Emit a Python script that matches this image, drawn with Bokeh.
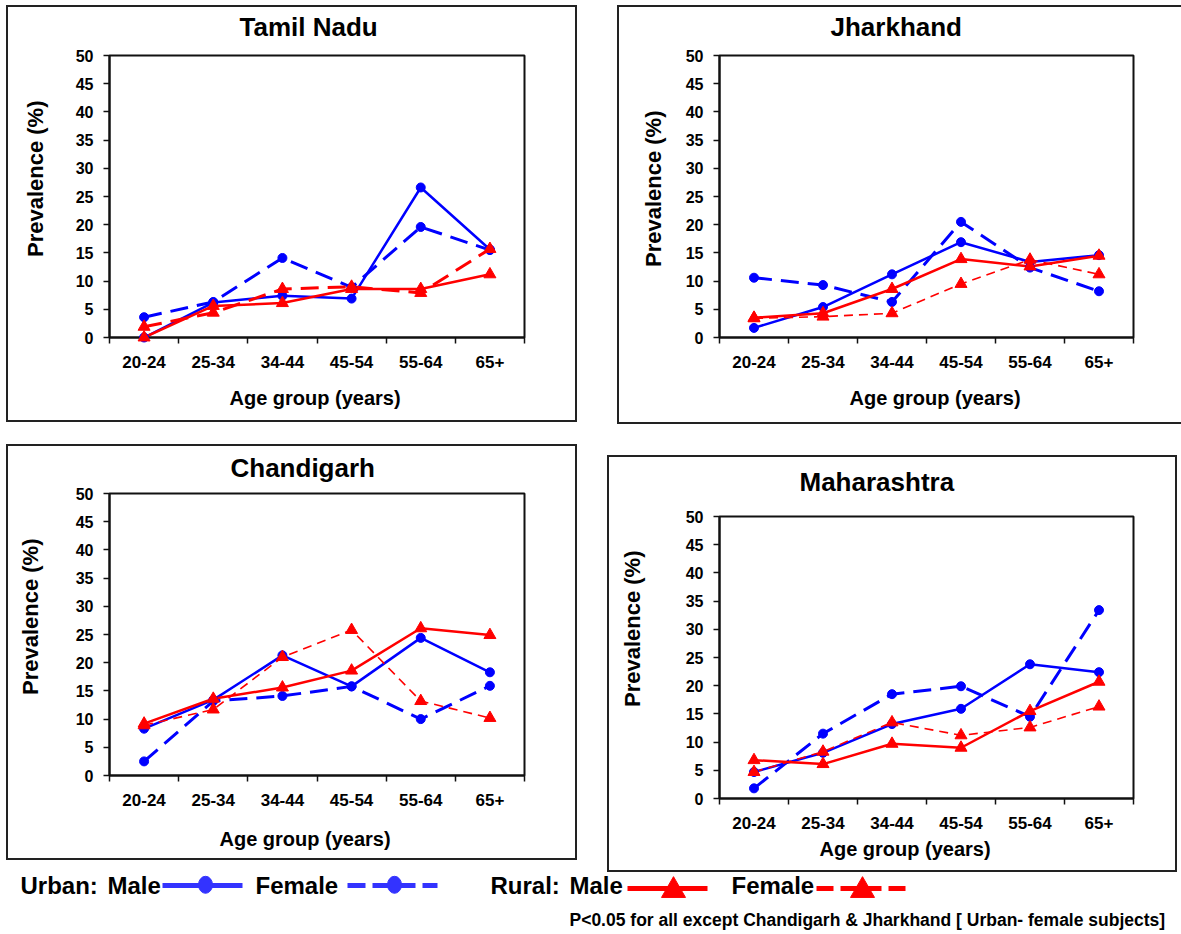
from bokeh.plotting import figure
from bokeh.models import Range1d, FixedTicker, Label, Title
from bokeh.embed import file_html
from bokeh.resources import INLINE

FONT = "Liberation Sans"
BLUE = "#0000FF"
RED = "#FF0000"
LEG_BLUE = "#3333FF"
INK = "#111111"
BOX = "#222222"

# ---------------- data ----------------
age_groups = ["20-24", "25-34", "34-44", "45-54", "55-64", "65+"]
y_ticks = [0, 5, 10, 15, 20, 25, 30, 35, 40, 45, 50]

tn_urban_male = [0.0, 6.2, 7.4, 6.9, 26.6, 15.6]
tn_urban_female = [3.6, 6.3, 14.1, 8.9, 19.6, 15.5]
tn_rural_male = [0.0, 5.6, 6.1, 8.6, 8.6, 11.2]
tn_rural_female = [1.9, 4.4, 8.6, 9.0, 7.9, 15.7]

jh_urban_male = [1.7, 5.4, 11.2, 16.9, 13.4, 14.6]
jh_urban_female = [10.6, 9.3, 6.3, 20.5, 12.4, 8.2]
jh_rural_male = [3.5, 4.3, 8.6, 13.9, 12.6, 14.5]
jh_rural_female = [3.4, 3.7, 4.3, 9.5, 13.8, 11.2]

ch_urban_male = [8.3, 13.4, 21.3, 15.8, 24.4, 18.3]
ch_urban_female = [2.5, 13.2, 14.1, 15.8, 10.0, 15.9]
ch_rural_male = [9.2, 13.6, 15.6, 18.6, 26.1, 24.9]
ch_rural_female = [8.9, 11.7, 21.0, 25.8, 13.2, 10.2]

mh_urban_male = [4.7, 8.1, 13.2, 15.9, 23.8, 22.4]
mh_urban_female = [1.8, 11.5, 18.5, 19.9, 14.5, 33.4]
mh_rural_male = [6.8, 6.1, 9.7, 9.0, 15.5, 20.7]
mh_rural_female = [4.7, 8.3, 13.5, 11.2, 12.6, 16.3]

y_label = "Prevalence (%)"
x_label = "Age group (years)"
footnote = "P<0.05 for all except  Chandigarh & Jharkhand [ Urban- female subjects]"

# ---------------- layout (page pixels) ----------------
# fig=(left, top, width, height); frame=(left, top, width, height); box=(l, t, r, b)
panels = {
    "Tamil Nadu": dict(fig=(-40, -30, 640, 470), frame=(109, 55, 415, 282), box=(6, 5, 577, 422),
                       t_off=130, t_so=28, y_off=45, y_so=50, x_off=120, x_so=29, thick_rf=True),
    "Jharkhand": dict(fig=(600, -30, 581, 470), frame=(719, 55, 414, 282), box=(617, 5, 1200, 424),
                      t_off=111, t_so=28, y_off=55, y_so=34, x_off=130, x_so=29, thick_rf=False),
    "Chandigarh": dict(fig=(-40, 420, 640, 446), frame=(109, 493, 415, 282), box=(6, 444, 577, 860),
                       t_off=121, t_so=22, y_off=45, y_so=59, x_off=110, x_so=34, thick_rf=False),
    "Maharashtra": dict(fig=(570, 420, 611, 460), frame=(719, 516, 414, 282), box=(607, 455, 1177, 872),
                        t_off=80, t_so=40, y_off=34, y_so=75, x_off=100, x_so=8, thick_rf=False),
}


def css_box(fl, ft, box, w=2, c=BOX):
    l, t, r, b = box[0] - fl, box[1] - ft, box[2] - fl, box[3] - ft
    W, H = r - l, b - t
    grad = f"linear-gradient({c}, {c})"
    return {
        "background-image": ", ".join([grad] * 4),
        "background-size": f"{W}px {w}px, {W}px {w}px, {w}px {H}px, {w}px {H}px",
        "background-position": f"{l}px {t}px, {l}px {b - w}px, {l}px {t}px, {r - w}px {t}px",
        "background-repeat": "no-repeat",
    }


def make_panel(name, um, uf, rm, rf):
    s = panels[name]
    fx, fy, W, H = s["fig"]
    fl, ft, fw, fh = s["frame"]
    n = len(age_groups)
    p = figure(width=W, height=H, x_range=Range1d(0, n), y_range=Range1d(0, 50),
               output_backend="svg", toolbar_location=None,
               min_border_left=fl - fx, min_border_top=ft - fy,
               min_border_right=fx + W - fl - fw, min_border_bottom=fy + H - ft - fh)
    styles = {"position": "absolute", "left": f"{fx}px", "top": f"{fy}px"}
    styles.update(css_box(fx, fy, s["box"]))
    p.styles = styles
    p.background_fill_color = "white"
    p.border_fill_color = None
    p.outline_line_color = INK
    p.outline_line_width = 2
    p.xgrid.visible = False
    p.ygrid.visible = False

    p.title.text = name
    p.title.align = "left"
    p.title.offset = s["t_off"]
    p.title.standoff = s["t_so"]
    p.title.text_font = FONT
    p.title.text_font_size = "26px"
    p.title.text_font_style = "bold"
    p.title.text_color = "black"

    xs = [i + 0.5 for i in range(n)]
    xa = p.xaxis[0]
    xa.ticker = FixedTicker(ticks=xs, minor_ticks=list(range(n + 1)))
    xa.major_label_overrides = {x: lab for x, lab in zip(xs, age_groups)}
    xa.major_tick_line_color = None
    xa.major_tick_out = 0
    xa.major_tick_in = 0
    xa.minor_tick_line_color = INK
    xa.minor_tick_line_width = 1.5
    xa.minor_tick_out = 6
    xa.minor_tick_in = 0
    xa.axis_line_color = INK
    xa.axis_line_width = 2
    xa.major_label_standoff = 12
    xa.major_label_text_font = FONT
    xa.major_label_text_font_size = "17px"
    xa.major_label_text_font_style = "bold"
    xa.major_label_text_color = "black"

    ya = p.yaxis[0]
    ya.ticker = FixedTicker(ticks=y_ticks, minor_ticks=[])
    ya.major_tick_out = 6
    ya.major_tick_in = 0
    ya.major_tick_line_color = INK
    ya.major_tick_line_width = 1.5
    ya.axis_line_color = INK
    ya.axis_line_width = 2
    ya.major_label_standoff = 10
    ya.major_label_text_font = FONT
    ya.major_label_text_font_size = "16px"
    ya.major_label_text_font_style = "bold"
    ya.major_label_text_color = "black"

    p.add_layout(Title(text=y_label, align="right", offset=s["y_off"], standoff=s["y_so"],
                       text_font=FONT, text_font_size="22px", text_font_style="bold",
                       text_color="black"), "left")
    p.add_layout(Title(text=x_label, align="left", offset=s["x_off"], standoff=s["x_so"],
                       text_font=FONT, text_font_size="20px", text_font_style="bold",
                       text_color="black"), "below")

    # lines
    p.line(xs, um, line_color=BLUE, line_width=2.5)
    p.line(xs, uf, line_color=BLUE, line_width=3, line_dash="18 9")
    p.line(xs, rm, line_color=RED, line_width=2.5)
    if s["thick_rf"]:
        p.line(xs, rf, line_color=RED, line_width=3, line_dash="18 9")
    else:
        p.line(xs, rf, line_color=RED, line_width=1.6, line_dash="9 6")
    # markers
    p.scatter(xs, um, marker="circle", size=9, color=BLUE, level="overlay")
    p.scatter(xs, uf, marker="circle", size=9, color=BLUE, level="overlay")
    p.scatter(xs, rm, marker="triangle", size=12, color=RED, level="overlay")
    p.scatter(xs, rf, marker="triangle", size=12, color=RED, level="overlay")
    return p


tn = make_panel("Tamil Nadu", tn_urban_male, tn_urban_female, tn_rural_male, tn_rural_female)
jh = make_panel("Jharkhand", jh_urban_male, jh_urban_female, jh_rural_male, jh_rural_female)
ch = make_panel("Chandigarh", ch_urban_male, ch_urban_female, ch_rural_male, ch_rural_female)
mh = make_panel("Maharashtra", mh_urban_male, mh_urban_female, mh_rural_male, mh_rural_female)

# ---------------- legend strip ----------------
LX, LY, LW, LH = 0, 866, 1181, 68
leg = figure(width=LW, height=LH, x_range=Range1d(0, LW), y_range=Range1d(LH, 0),
             output_backend="svg", toolbar_location=None,
             x_axis_location=None, y_axis_location=None,
             min_border=0, min_border_left=0, min_border_right=0,
             min_border_top=0, min_border_bottom=0)
leg.styles = {"position": "absolute", "left": f"{LX}px", "top": f"{LY}px"}
leg.outline_line_color = None
leg.xgrid.visible = False
leg.ygrid.visible = False
leg.background_fill_color = None
leg.border_fill_color = None

leg_texts = [("Urban:", 20), ("Male", 107), ("Female", 255), ("Rural:", 490), ("Male", 569), ("Female", 731)]
for txt, x in leg_texts:
    leg.add_layout(Label(x=x, y=19, text=txt, text_font=FONT, text_font_size="24px",
                         text_font_style="bold", text_color="black", text_baseline="middle"))

leg_samples = [
    dict(x0=162, x1=242, y=19, mx=205, my=18.3, color=LEG_BLUE, dash="solid", marker="circle"),
    dict(x0=347, x1=437, y=19, mx=394, my=18.3, color=LEG_BLUE, dash="18 7", marker="circle"),
    dict(x0=627, x1=707, y=22, mx=673, my=24, color=RED, dash="solid", marker="triangle"),
    dict(x0=816, x1=907, y=22, mx=862, my=24, color=RED, dash="17 7", marker="triangle"),
]
for sm in leg_samples:
    leg.line([sm["x0"], sm["x1"]], [sm["y"], sm["y"]], line_color=sm["color"], line_width=5,
             line_dash=sm["dash"])
    if sm["marker"] == "circle":
        leg.ellipse(x=[sm["mx"]], y=[sm["my"]], width=14, height=17, color=sm["color"])
    else:
        leg.scatter([sm["mx"]], [sm["my"]], marker="triangle", size=24, color=sm["color"])

leg.add_layout(Label(x=569, y=53.5, text=footnote, text_font=FONT, text_font_size="17.5px",
                     text_font_style="bold", text_color="black", text_baseline="middle"))

p = [tn, jh, ch, mh, leg]
open("out.html", "w").write(file_html(p, INLINE))
